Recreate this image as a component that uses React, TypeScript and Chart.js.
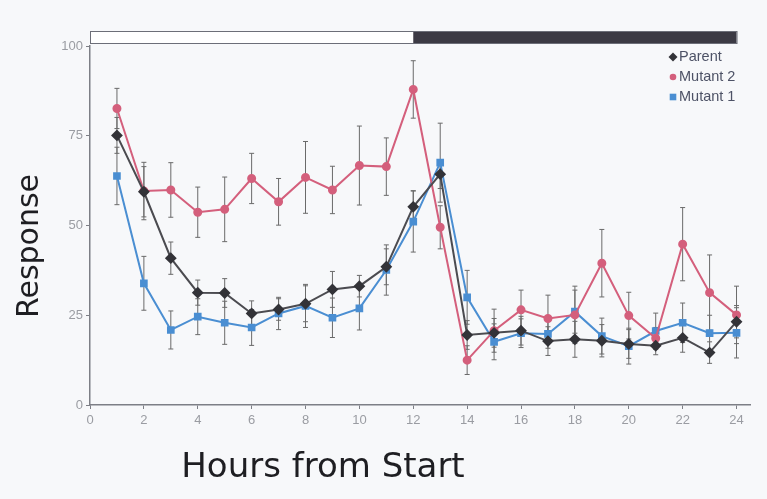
import React, { useEffect, useRef } from 'react';
import { Chart, registerables } from 'chart.js';

Chart.register(...registerables);

const hours = [1, 2, 3, 4, 5, 6, 7, 8, 9, 10, 11, 12, 13, 14, 15, 16, 17, 18, 19, 20, 21, 22, 23, 24];
const parent = [75.1, 59.4, 40.9, 31.3, 31.2, 25.5, 26.6, 28.2, 32.2, 33.1, 38.5, 55.2, 64.3, 19.5, 20.1, 20.7, 17.8, 18.3, 17.9, 17.0, 16.5, 18.7, 14.6, 23.2];
const parentErr = [5, 7, 4.5, 3.5, 4, 3.5, 3, 5, 5, 3, 5, 4.5, 4, 4, 4, 4, 4, 5, 4.5, 4, 2.5, 4, 3, 4.5];
const mutant2 = [82.6, 59.6, 59.9, 53.7, 54.5, 63.1, 56.6, 63.4, 59.9, 66.7, 66.4, 87.9, 49.5, 12.5, 20.7, 26.5, 24.1, 25.1, 39.5, 24.9, 18.6, 44.8, 31.3, 25.1];
const mutant2Err = [5.6, 8, 7.6, 7, 9, 7, 6.5, 10, 6.6, 11, 8, 8, 6, 4, 6, 5.5, 6.5, 8, 9.4, 6.5, 3, 10.2, 10.5, 8];
const mutant1 = [63.8, 33.9, 20.9, 24.6, 22.9, 21.6, 25.5, 27.6, 24.3, 26.9, 37.6, 51.1, 67.5, 30.0, 17.6, 20.0, 19.8, 26.0, 19.2, 16.4, 20.6, 22.9, 20.0, 20.1];
const mutant1Err = [8, 7.5, 5.3, 5, 6, 5, 4.5, 6, 5.5, 6, 7, 8.5, 11, 7.5, 5, 4, 4, 6, 5, 5, 5, 5.5, 5, 7];
const xTicks = [0, 2, 4, 6, 8, 10, 12, 14, 16, 18, 20, 22, 24];
const yTicks = [0, 25, 50, 75, 100];
const lightPeriod = [0, 12];
const darkPeriod = [12, 24];
const seriesNames = ['Parent', 'Mutant 2', 'Mutant 1'];
const xTitle = 'Hours from Start';
const yTitle = 'Response';

const COLORS = {
  parentLine: '#4b4b50',
  parentPoint: '#333338',
  m2: '#d45f7c',
  m1: '#4a8ed2',
  err: '#6a6a6a',
  axis: '#7d7f86',
  tick: '#9a9ca2',
  legendText: '#4d5266',
  bg: '#f7f8fa',
};

const errorSets = [parentErr, mutant2Err, mutant1Err];

const bgPlugin = {
  id: 'bgFill',
  beforeDraw(chart: any) {
    const { ctx, width, height } = chart;
    ctx.save();
    ctx.fillStyle = COLORS.bg;
    ctx.fillRect(0, 0, width, height);
    ctx.restore();
  },
};

const errorBarPlugin = {
  id: 'errorBars',
  beforeDatasetsDraw(chart: any) {
    const { ctx } = chart;
    const xs = chart.scales.x;
    const ys = chart.scales.y;
    ctx.save();
    ctx.strokeStyle = COLORS.err;
    ctx.lineWidth = 1;
    chart.data.datasets.forEach((ds: any, di: number) => {
      const errs = errorSets[di];
      ds.data.forEach((pt: any, i: number) => {
        const x = xs.getPixelForValue(pt.x);
        const yTop = ys.getPixelForValue(pt.y + errs[i]);
        const yBot = ys.getPixelForValue(pt.y - errs[i]);
        ctx.beginPath();
        ctx.moveTo(x, yTop);
        ctx.lineTo(x, yBot);
        ctx.moveTo(x - 2.5, yTop);
        ctx.lineTo(x + 2.5, yTop);
        ctx.moveTo(x - 2.5, yBot);
        ctx.lineTo(x + 2.5, yBot);
        ctx.stroke();
      });
    });
    ctx.restore();
  },
};

const decorPlugin = {
  id: 'decor',
  afterDraw(chart: any) {
    const { ctx } = chart;
    const xs = chart.scales.x;
    const area = chart.chartArea;
    ctx.save();
    // light/dark bar
    const barTop = area.top - 15;
    const barH = 12;
    const l0 = xs.getPixelForValue(lightPeriod[0]);
    const l1 = xs.getPixelForValue(lightPeriod[1]);
    const d1 = xs.getPixelForValue(darkPeriod[1]);
    ctx.fillStyle = '#ffffff';
    ctx.fillRect(l0, barTop, l1 - l0, barH);
    ctx.fillStyle = '#3c3a44';
    ctx.fillRect(l1, barTop, d1 - l1, barH);
    ctx.strokeStyle = '#6c6e78';
    ctx.lineWidth = 1;
    ctx.strokeRect(l0 + 0.5, barTop + 0.5, d1 - l0, barH);

    // legend
    const lx = area.right - 70;
    const ly = area.top + 11;
    const step = 20;
    ctx.font = '14.5px "Liberation Sans", Arial, sans-serif';
    ctx.textBaseline = 'middle';
    ctx.textAlign = 'left';
    seriesNames.forEach((name, i) => {
      const y = ly + i * step;
      const mx = lx - 7;
      if (i === 0) {
        ctx.fillStyle = COLORS.parentPoint;
        ctx.beginPath();
        ctx.moveTo(mx, y - 4.5);
        ctx.lineTo(mx + 4.5, y);
        ctx.lineTo(mx, y + 4.5);
        ctx.lineTo(mx - 4.5, y);
        ctx.closePath();
        ctx.fill();
      } else if (i === 1) {
        ctx.fillStyle = COLORS.m2;
        ctx.beginPath();
        ctx.arc(mx, y, 3.3, 0, Math.PI * 2);
        ctx.fill();
      } else {
        ctx.fillStyle = COLORS.m1;
        ctx.fillRect(mx - 3.3, y - 3.3, 6.6, 6.6);
      }
      ctx.fillStyle = COLORS.legendText;
      ctx.fillText(name, lx - 1, y);
    });

    // axis titles
    ctx.fillStyle = '#1e1e22';
    const fitFont = (text: string, target: number) => {
      ctx.font = '30px "DejaVu Sans", sans-serif';
      const w = ctx.measureText(text).width;
      return Math.round((30 * target) / w);
    };
    const fx = fitFont(xTitle, 280);
    ctx.font = `${fx}px "DejaVu Sans", sans-serif`;
    ctx.textAlign = 'center';
    ctx.textBaseline = 'middle';
    ctx.fillText(xTitle, 323, 468);

    const fy = fitFont(yTitle, 143);
    ctx.font = `${fy}px "DejaVu Sans", sans-serif`;
    ctx.translate(30, 246);
    ctx.rotate(-Math.PI / 2);
    ctx.fillText(yTitle, 0, 0);
    ctx.restore();
  },
};

export default function App() {
  const ref = useRef<HTMLCanvasElement>(null);
  useEffect(() => {
    document.body.style.margin = '0';
    const canvas = ref.current!;
    const toPts = (arr: number[]) => arr.map((v, i) => ({ x: hours[i], y: v }));
    const chart = new Chart(canvas, {
      type: 'line',
      data: {
        datasets: [
          {
            label: seriesNames[0],
            data: toPts(parent),
            borderColor: COLORS.parentLine,
            backgroundColor: COLORS.parentPoint,
            pointBackgroundColor: COLORS.parentPoint,
            pointBorderColor: COLORS.parentPoint,
            pointStyle: 'rectRot',
            pointRadius: 4.5,
            borderWidth: 2,
          },
          {
            label: seriesNames[1],
            data: toPts(mutant2),
            borderColor: COLORS.m2,
            backgroundColor: COLORS.m2,
            pointBackgroundColor: COLORS.m2,
            pointBorderColor: COLORS.m2,
            pointStyle: 'circle',
            pointRadius: 3.5,
            borderWidth: 2,
          },
          {
            label: seriesNames[2],
            data: toPts(mutant1),
            borderColor: COLORS.m1,
            backgroundColor: COLORS.m1,
            pointBackgroundColor: COLORS.m1,
            pointBorderColor: COLORS.m1,
            pointStyle: 'rect',
            pointRadius: 4,
            borderWidth: 2,
          },
        ],
      },
      options: {
        responsive: false,
        animation: false,
        events: [],
        layout: { padding: { top: 46, right: 17, left: 0, bottom: 0 } },
        plugins: {
          legend: { display: false },
          tooltip: { enabled: false },
        },
        scales: {
          x: {
            type: 'linear',
            min: 0,
            max: 24.5,
            afterBuildTicks: (s: any) => {
              s.ticks = xTicks.map((v) => ({ value: v }));
            },
            afterFit: (s: any) => {
              s.height = 94;
            },
            grid: {
              display: true,
              drawOnChartArea: false,
              drawTicks: true,
              tickLength: 4,
              color: COLORS.axis,
            },
            border: { display: true, color: COLORS.axis, width: 1.5 },
            ticks: {
              color: COLORS.tick,
              font: { family: '"Liberation Sans", Arial, sans-serif', size: 13 },
              padding: 4,
              maxRotation: 0,
              autoSkip: false,
            },
          },
          y: {
            type: 'linear',
            min: 0,
            max: 100,
            afterBuildTicks: (s: any) => {
              s.ticks = yTicks.map((v) => ({ value: v }));
            },
            afterFit: (s: any) => {
              s.width = 90;
            },
            grid: {
              display: true,
              drawOnChartArea: false,
              drawTicks: true,
              tickLength: 4,
              color: COLORS.axis,
            },
            border: { display: true, color: COLORS.axis, width: 1.5 },
            ticks: {
              color: COLORS.tick,
              font: { family: '"Liberation Sans", Arial, sans-serif', size: 13 },
              padding: 3,
            },
          },
        },
      },
      plugins: [bgPlugin, errorBarPlugin, decorPlugin],
    } as any);
    return () => chart.destroy();
  }, []);
  return <canvas ref={ref} width={767} height={499} style={{ display: 'block' }} />;
}
